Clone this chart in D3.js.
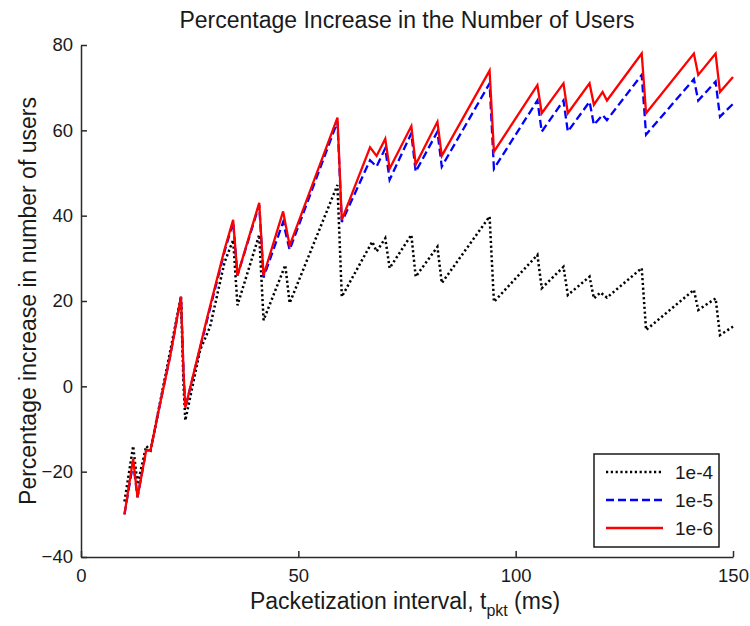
<!DOCTYPE html>
<html>
<head>
<meta charset="utf-8">
<script src="https://cdn.jsdelivr.net/npm/d3@7"></script>
<style>
  html, body { margin: 0; padding: 0; background: #fff; }
  svg { display: block; }
  text { font-family: "Liberation Sans", Arial, sans-serif; fill: #1a1a1a; }
</style>
</head>
<body>
<svg id="chart" width="750" height="626"></svg>
<script>
// Packetization interval (ms) and percentage increase in users, per BER target
const t1e4 = [10, 12, 13, 15, 16, 23, 23.3, 23.6, 24, 27.4, 29.7, 33, 35, 36, 41, 42, 47, 48, 59, 60, 67, 68, 70, 71, 76, 77, 82, 83, 94, 95, 105, 106, 111, 112, 117, 118, 119.5, 121, 129, 130, 141, 142, 146, 147, 150];
const v1e4 = [-27, -14, -23, -14, -15, 21, 10, 0, -8, 8.5, 14, 29, 34.3, 19, 35.5, 15.5, 28.4, 19.5, 47.2, 21, 33.9, 31.6, 34.7, 27.7, 35.5, 25.7, 32.7, 24.2, 39.8, 19.8, 30.8, 23, 28, 21.4, 25.7, 20.6, 22, 20.8, 27.7, 13.2, 22.6, 17.9, 20.6, 12, 14];

const t1e5 = [10, 12, 13, 15, 16, 18, 20.5, 23, 23.3, 23.6, 24, 29, 33, 35, 36, 41, 42, 46.5, 48, 59, 60, 66.5, 68, 70, 71, 76, 77, 82, 83, 94, 95, 105, 106, 111, 112, 117, 118, 120, 121, 129, 130, 141, 142, 146, 147, 150];
const v1e5 = [-30, -18, -26, -15, -15, -5, 7, 21, 12, 3, -5, 15.5, 31.5, 38.5, 26, 42.5, 25.5, 38.5, 32, 62, 38.5, 53, 51.5, 55.8, 48.4, 59.3, 50.3, 59.7, 51.5, 71, 51, 67, 59.7, 67, 59.7, 66.7, 61.3, 63.6, 62.4, 73, 59, 72, 67, 71.4, 63.2, 66.2];

const t1e6 = [10, 12, 13, 15, 16, 18, 20.5, 23, 23.3, 23.6, 24, 29, 33, 35, 36, 41, 42, 46.5, 48, 59, 60, 66.5, 68, 70, 71, 76, 77, 82, 83, 94, 95, 105, 106, 111, 112, 117, 118, 120, 121, 129, 130, 141, 142, 146, 147, 150];
const v1e6 = [-30, -17, -26, -15, -15, -5, 7, 21, 12, 3, -5, 16, 32, 39, 26, 43, 26, 41, 33, 63, 39, 56, 54, 58, 51, 61, 52, 62, 54, 74, 55, 70.6, 64, 71, 64, 71, 66, 69, 67, 78, 64, 78, 73, 78, 69, 72.5];

const seriesNames = ["1e-4", "1e-5", "1e-6"];
const xTicks = [0, 50, 100, 150];
const yTicks = [-40, -20, 0, 20, 40, 60, 80];

const titleText = "Percentage Increase in the Number of Users";
const yLabelText = "Percentage increase in number of users";

const svg = d3.select("#chart");
const plot = { left: 81, right: 733, top: 45, bottom: 557 };

const x = d3.scaleLinear().domain([0, 150]).range([plot.left, plot.right]);
const y = d3.scaleLinear().domain([-40, 80]).range([plot.bottom, plot.top]);

// Axes: ticks point inward, no box on top/right
const axisColor = "#2a2a2a";
const gx = svg.append("g")
  .attr("transform", `translate(0,${plot.bottom})`)
  .call(d3.axisBottom(x).tickValues(xTicks).tickSizeInner(-6).tickSizeOuter(0).tickPadding(10));
const gy = svg.append("g")
  .attr("transform", `translate(${plot.left},0)`)
  .call(d3.axisLeft(y).tickValues(yTicks).tickSizeInner(-6).tickSizeOuter(0).tickPadding(8));

[gx, gy].forEach(g => {
  g.select(".domain").attr("stroke", axisColor).attr("stroke-width", 1.5);
  g.selectAll(".tick line").attr("stroke", axisColor).attr("stroke-width", 1.5);
  g.selectAll(".tick text")
    .attr("fill", "#1a1a1a")
    .style("font-family", "'Liberation Sans', Arial, sans-serif")
    .style("font-size", "18.5px");
});
gx.selectAll(".tick text").attr("dy", "0.8em");

// Series lines
const styles = [
  { t: t1e4, v: v1e4, color: "#000000", dash: "2.2,2.6", width: 2.5 },
  { t: t1e5, v: v1e5, color: "#0000ff", dash: "8,4", width: 2.3 },
  { t: t1e6, v: v1e6, color: "#ff0000", dash: null, width: 2.3 }
];

const line = d3.line().x(d => x(d[0])).y(d => y(d[1]));

const drawOrder = [1, 0, 2];
drawOrder.forEach(i => {
  const s = styles[i];
  const pts = s.t.map((t, k) => [t, s.v[k]]);
  svg.append("path")
    .datum(pts)
    .attr("fill", "none")
    .attr("stroke", s.color)
    .attr("stroke-width", s.width)
    .attr("stroke-dasharray", s.dash)
    .attr("d", line);
});

// Title
svg.append("text")
  .attr("x", (plot.left + plot.right) / 2)
  .attr("y", 28)
  .attr("text-anchor", "middle")
  .style("font-size", "23px")
  .text(titleText);

// X label with subscript
const xl = svg.append("text")
  .attr("x", (plot.left + plot.right) / 2 - 2)
  .attr("y", 609)
  .attr("text-anchor", "middle")
  .style("font-size", "23px");
xl.append("tspan").text("Packetization interval, t");
xl.append("tspan").attr("dy", 7).style("font-size", "16px").text("pkt");
xl.append("tspan").attr("dy", -7).text(" (ms)");

// Y label
svg.append("text")
  .attr("transform", `translate(36,${(plot.top + plot.bottom) / 2}) rotate(-90)`)
  .attr("text-anchor", "middle")
  .style("font-size", "23px")
  .text(yLabelText);

// Legend
const lg = svg.append("g");
lg.append("rect")
  .attr("x", 594).attr("y", 454)
  .attr("width", 125).attr("height", 93)
  .attr("fill", "#fff")
  .attr("stroke", "#1a1a1a")
  .attr("stroke-width", 1.5);
const rowY = d3.scalePoint().domain(seriesNames).range([472, 528]);
seriesNames.forEach((name, i) => {
  const s = styles[i];
  lg.append("line")
    .attr("x1", 606).attr("x2", 663)
    .attr("y1", rowY(name)).attr("y2", rowY(name))
    .attr("stroke", s.color)
    .attr("stroke-width", s.width)
    .attr("stroke-dasharray", s.dash);
  lg.append("text")
    .attr("x", 675)
    .attr("y", rowY(name))
    .attr("dy", "0.36em")
    .style("font-size", "19px")
    .text(name);
});
</script>
</body>
</html>
